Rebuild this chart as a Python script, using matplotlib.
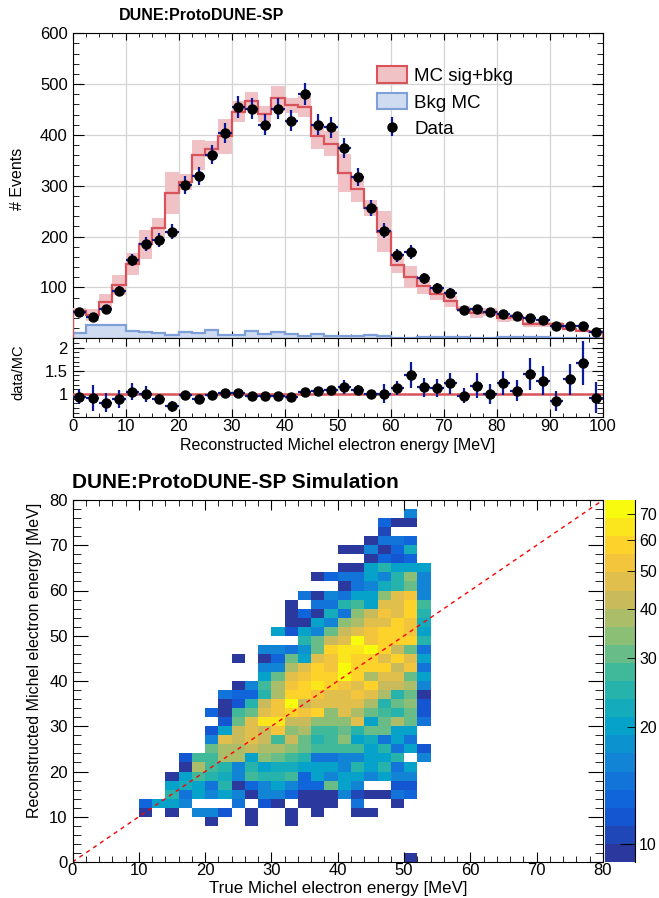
import numpy as np
import matplotlib
matplotlib.use("Agg")
import matplotlib.pyplot as plt
from matplotlib.colors import LinearSegmentedColormap, ListedColormap, BoundaryNorm
from matplotlib.patches import Patch
from matplotlib.ticker import MultipleLocator, FixedLocator, FixedFormatter, NullFormatter

plt.rcParams['font.family'] = ['Liberation Sans', 'DejaVu Sans']

# ---- 1D spectrum: 40 bins of 2.5 MeV ----
bin_edges = np.arange(0, 100.01, 2.5)
data_counts = [51, 42, 58, 93, 154, 185, 194, 210, 301, 320,
               361, 404, 455, 452, 420, 452, 428, 480, 420, 415,
               375, 318, 257, 212, 163, 170, 118, 99, 90, 56,
               58, 52, 48, 44, 40, 36, 24, 25, 25, 12]
mc_total = [54, 46, 71, 105, 146, 185, 217, 286, 308, 361,
            372, 397, 446, 467, 441, 472, 458, 456, 397, 383,
            325, 294, 257, 210, 145, 120, 103, 87, 73, 58,
            49, 52, 39, 41, 28, 28, 28, 19, 15, 13]
mc_unc = [6, 12, 16, 20, 21, 29, 20, 42, 16, 30,
          16, 34, 20, 18, 16, 24, 14, 20, 25, 25,
          37, 25, 16, 41, 16, 22, 16, 12, 11, 6,
          9, 8, 6, 6, 5, 5, 4, 3, 3, 3]
bkg_mc = [10, 27, 27, 26, 15, 12, 10, 7, 12, 11,
          16, 7, 7, 14, 8, 12, 8, 5, 8, 5,
          4, 4, 6, 5, 0, 0, 3, 3, 2, 2,
          0, 0, 3, 3, 2, 2, 0, 0, 0, 0]

# ---- 2D true vs reco: 2 MeV bins, y low edge -> (x low edge of first cell, counts) ----
h2_rows = {
    76: (50, [16]),
    74: (46, [13, 10, 10]),
    72: (46, [11]),
    70: (44, [10, 15, 15, 13]),
    68: (40, [10, 10, 17, 10, 13, 22]),
    66: (44, [10, 13, 12, 13]),
    64: (40, [10, 10, 20, 26, 21, 21, 21]),
    62: (36, [10, 13, 15, 14, 19, 17, 26, 36, 17]),
    60: (40, [10, 14, 17, 23, 26, 32, 17]),
    58: (34, [15, 10, 16, 14, 20, 20, 36, 47, 52, 17]),
    56: (32, [10, 0, 14, 14, 26, 28, 20, 46, 46, 58, 28]),
    54: (32, [10, 13, 10, 23, 15, 34, 44, 52, 47, 58, 24]),
    52: (32, [10, 10, 20, 17, 36, 38, 46, 47, 56, 52, 23]),
    50: (30, [20, 12, 20, 17, 32, 42, 46, 52, 58, 56, 50, 21]),
    48: (34, [26, 30, 44, 47, 72, 52, 58, 58, 58, 24]),
    46: (28, [17, 17, 14, 18, 30, 58, 64, 62, 72, 58, 44, 32, 15]),
    44: (24, [10, 0, 10, 13, 32, 21, 48, 55, 66, 58, 58, 48, 58, 47, 20]),
    42: (28, [16, 17, 38, 47, 58, 55, 72, 58, 56, 56, 44, 52, 15]),
    40: (28, [20, 32, 47, 52, 58, 58, 70, 56, 38, 47, 47, 32, 20]),
    38: (24, [10, 16, 27, 38, 52, 58, 62, 56, 52, 48, 58, 44, 44, 38, 17]),
    36: (22, [14, 13, 13, 24, 38, 58, 58, 55, 45, 47, 52, 48, 38, 26, 30, 10]),
    34: (22, [10, 12, 24, 44, 52, 72, 44, 48, 47, 48, 46, 38, 26, 30, 36, 12]),
    32: (20, [13, 10, 27, 30, 47, 55, 56, 52, 60, 36, 47, 38, 32, 28, 25, 32, 12]),
    30: (22, [12, 30, 47, 62, 68, 44, 44, 36, 36, 36, 46, 21, 32, 40, 32, 15]),
    28: (20, [12, 20, 44, 47, 44, 52, 36, 38, 28, 28, 30, 25, 32, 30, 21, 21]),
    26: (20, [17, 48, 44, 46, 44, 28, 44, 32, 26, 28, 36, 20, 23, 15, 20, 14]),
    24: (20, [32, 38, 40, 42, 40, 38, 34, 32, 27, 27, 27, 27, 20, 24, 14, 19, 12]),
    22: (16, [12, 28, 28, 38, 40, 20, 36, 32, 28, 24, 15, 15, 17, 17, 19, 19, 24, 0, 16]),
    20: (16, [10, 40, 28, 24, 17, 24, 20, 23, 23, 20, 20, 20, 16, 24, 20, 26, 14, 20]),
    18: (14, [10, 20, 27, 24, 23, 17, 28, 25, 25, 28, 13, 20, 17, 20, 19, 16, 20, 17, 17]),
    16: (14, [20, 23, 20, 15, 26, 10, 13, 17, 20, 16, 13, 13, 30, 20, 17, 0, 0, 12, 12]),
    14: (14, [24, 15, 20, 17, 20, 17, 10, 17, 17, 13, 10, 10, 10, 16, 11, 10, 10, 14, 13]),
    12: (10, [13, 19, 19, 17, 0, 0, 0, 14, 0, 12, 10, 0, 10, 10, 10, 0, 14, 0, 0, 10]),
    10: (10, [10, 0, 10, 0, 17, 17, 12, 0, 10, 0, 0, 10, 0, 10, 0, 0, 10, 10]),
    8: (20, [10, 0, 0, 10, 0, 0, 10]),
    0: (50, [10]),
}
h2_edges = np.arange(0, 80.01, 2)
z_min, z_max = 9, 76
cbar_ticks = [10, 20, 30, 40, 50, 60, 70]

# ROOT kBird palette (darkest stop nudged bluer to match the picture)
bird_stops = [0.0, 0.125, 0.25, 0.375, 0.5, 0.625, 0.75, 0.875, 1.0]
bird_r = [0.17, 0.0592, 0.0780, 0.0232, 0.1802, 0.5301, 0.8186, 0.9956, 0.9764]
bird_g = [0.22, 0.3599, 0.5041, 0.6419, 0.7178, 0.7492, 0.7328, 0.7862, 0.9832]
bird_b = [0.62, 0.8684, 0.8385, 0.7914, 0.6425, 0.4662, 0.3499, 0.1968, 0.0539]

W, H = 659, 898


def rect(l, t, r, b):
    return [l / W, 1 - b / H, (r - l) / W, (b - t) / H]


def ftext(x, y, s, **kw):
    fig.text(x / W, 1 - y / H, s, **kw)


fig = plt.figure(figsize=(W / 100, H / 100), dpi=100)

red_line = '#d9545a'
pink_fill = '#f0c2c6'
blue_line = '#7f9fd8'
blue_fill = '#cfdbf0'
err_col = '#0b1b9c'
grid_col = '#d4d4d4'

data = np.array(data_counts, float)
mc = np.array(mc_total, float)
mce = np.array(mc_unc, float)
centers = 0.5 * (bin_edges[1:] + bin_edges[:-1])
half_w = 0.5 * np.diff(bin_edges)

# ---------------- top panel ----------------
ax = fig.add_axes(rect(72.7, 33.3, 602.7, 338.3))
ax.set_axisbelow(True)
ax.grid(True, color=grid_col, lw=0.9)
ax.stairs(bkg_mc, bin_edges, fill=True, color=blue_fill, zorder=2)
ax.stairs(bkg_mc, bin_edges, color=blue_line, lw=1.6, zorder=3)
ax.stairs(mc + mce, bin_edges, baseline=mc - mce, fill=True, color=pink_fill, zorder=4)
ax.stairs(mc, bin_edges, color=red_line, lw=1.6, zorder=5)
ax.errorbar(centers, data, xerr=half_w, yerr=np.sqrt(data), fmt='o', ms=6.5,
            color='black', ecolor=err_col, elinewidth=1.6, capsize=0, zorder=6)
ax.set_xlim(0, 100)
ax.set_ylim(0, 600)
ax.xaxis.set_major_locator(MultipleLocator(10))
ax.xaxis.set_minor_locator(MultipleLocator(2.5))
ax.yaxis.set_minor_locator(MultipleLocator(20))
ax.xaxis.set_major_formatter(NullFormatter())
ax.set_yticks([0, 100, 200, 300, 400, 500, 600], ['', '100', '200', '300', '400', '500', '600'])
ax.tick_params(axis='both', which='both', direction='in', top=True, right=True, labelsize=12)
ax.tick_params(axis='y', which='major', length=8)
ax.tick_params(axis='y', which='minor', length=4)
ax.tick_params(axis='x', which='major', length=5)
ax.tick_params(axis='x', which='minor', length=3)

dummy = ax.errorbar([-50], [-50], yerr=[10], fmt='o', ms=6.5, color='black',
                    ecolor=err_col, elinewidth=1.6, capsize=0)
handles = [Patch(facecolor=pink_fill, edgecolor=red_line, lw=1.5),
           Patch(facecolor=blue_fill, edgecolor=blue_line, lw=1.5),
           dummy]
ax.legend(handles, ['MC sig+bkg', 'Bkg MC', 'Data'], loc='upper left',
          bbox_to_anchor=(377 / W, 1 - 66 / H), bbox_transform=fig.transFigure,
          frameon=False, fontsize=13.5, handlelength=1.6, handleheight=1.0,
          handletextpad=0.4, labelspacing=0.42, borderpad=0, borderaxespad=0)

# ---------------- ratio panel ----------------
rax = fig.add_axes(rect(72.7, 338.3, 602.7, 417.3))
rax.set_axisbelow(True)
rax.grid(True, color=grid_col, lw=0.9)
ratio = data / mc
ratio_err = ratio * np.sqrt(1.0 / data + (mce / mc) ** 2)
rax.axhline(1.0, color=red_line, lw=1.8, zorder=3)
rax.errorbar(centers, ratio, xerr=half_w, yerr=ratio_err, fmt='o', ms=6.5,
             color='black', ecolor=err_col, elinewidth=1.6, capsize=0, zorder=5)
rax.set_xlim(0, 100)
rax.set_ylim(0.5, 2.2)
rax.xaxis.set_major_locator(MultipleLocator(10))
rax.xaxis.set_minor_locator(MultipleLocator(2.5))
rax.set_yticks([1, 1.5, 2], ['1', '1.5', '2'])
rax.yaxis.set_minor_locator(MultipleLocator(0.1))
rax.tick_params(axis='both', which='both', direction='in', top=True, right=True, labelsize=12)
rax.tick_params(axis='y', which='major', length=8)
rax.tick_params(axis='y', which='minor', length=4)
rax.tick_params(axis='x', which='major', length=6, pad=1)
rax.tick_params(axis='x', which='minor', length=3)

ftext(119, 16, 'DUNE:ProtoDUNE-SP', fontsize=11.5, fontweight='bold', va='center')
ftext(18, 179, '# Events', fontsize=11.5, rotation=90, ha='center', va='center')
ftext(18, 372, 'data/MC', fontsize=10.5, rotation=90, ha='center', va='center')
ftext(338, 445, 'Reconstructed Michel electron energy [MeV]', fontsize=11.5,
      ha='center', va='center')

# ---------------- 2D panel ----------------
counts = np.zeros((len(h2_edges) - 1, len(h2_edges) - 1))
for y0, (x0, vals) in h2_rows.items():
    i, j = y0 // 2, x0 // 2
    counts[i, j:j + len(vals)] = vals
counts = np.ma.masked_less(counts, z_min)

bird = LinearSegmentedColormap(
    'bird', {'red': [(s, v, v) for s, v in zip(bird_stops, bird_r)],
             'green': [(s, v, v) for s, v in zip(bird_stops, bird_g)],
             'blue': [(s, v, v) for s, v in zip(bird_stops, bird_b)]})
ncont = 20
cmap = ListedColormap(bird(np.linspace(0, 1, ncont)))
levels = np.geomspace(z_min, z_max, ncont + 1)
norm = BoundaryNorm(levels, ncont)

hax = fig.add_axes(rect(72.5, 500, 603, 862))
hax.pcolormesh(h2_edges, h2_edges, counts, cmap=cmap, norm=norm)
hax.plot([0, 80], [0, 80], color='red', lw=1.0, ls=(0, (3, 3)))
hax.set_xlim(0, 80)
hax.set_ylim(0, 80)
for a in (hax.xaxis, hax.yaxis):
    a.set_major_locator(MultipleLocator(10))
    a.set_minor_locator(MultipleLocator(2))
hax.tick_params(axis='both', which='both', direction='in', top=True, right=True, labelsize=12)
hax.tick_params(axis='y', which='major', length=11)
hax.tick_params(axis='y', which='minor', length=6)
hax.tick_params(axis='x', which='major', length=7, pad=1)
hax.tick_params(axis='x', which='minor', length=4)

ftext(72, 483, 'DUNE:ProtoDUNE-SP Simulation', fontsize=15, fontweight='bold', va='center')
ftext(35, 503, 'Reconstructed Michel electron energy [MeV]', fontsize=11.5,
      rotation=90, ha='center', va='top')
ftext(338, 889, 'True Michel electron energy [MeV]', fontsize=12.2, ha='center', va='center')

# ---------------- colour scale ----------------
cax = fig.add_axes(rect(605, 500, 635, 862))
mids = np.sqrt(levels[1:] * levels[:-1]).reshape(-1, 1)
cax.pcolormesh([0, 1], levels, mids, cmap=cmap, norm=norm)
cax.set_yscale('log')
cax.set_ylim(z_min, z_max)
cax.set_xlim(0, 1)
cax.set_xticks([])
for side in ('left', 'top', 'bottom'):
    cax.spines[side].set_visible(False)
cax.yaxis.tick_right()
cax.yaxis.set_major_locator(FixedLocator([10]))
cax.yaxis.set_major_formatter(FixedFormatter(['10']))
cax.yaxis.set_minor_locator(FixedLocator(cbar_ticks[1:]))
cax.yaxis.set_minor_formatter(FixedFormatter([str(t) for t in cbar_ticks[1:]]))
cax.tick_params(axis='y', which='both', direction='in', labelsize=11.5, pad=3)
cax.tick_params(axis='y', which='major', length=11)
cax.tick_params(axis='y', which='minor', length=5.5)

fig.savefig('out.png', dpi=100)
